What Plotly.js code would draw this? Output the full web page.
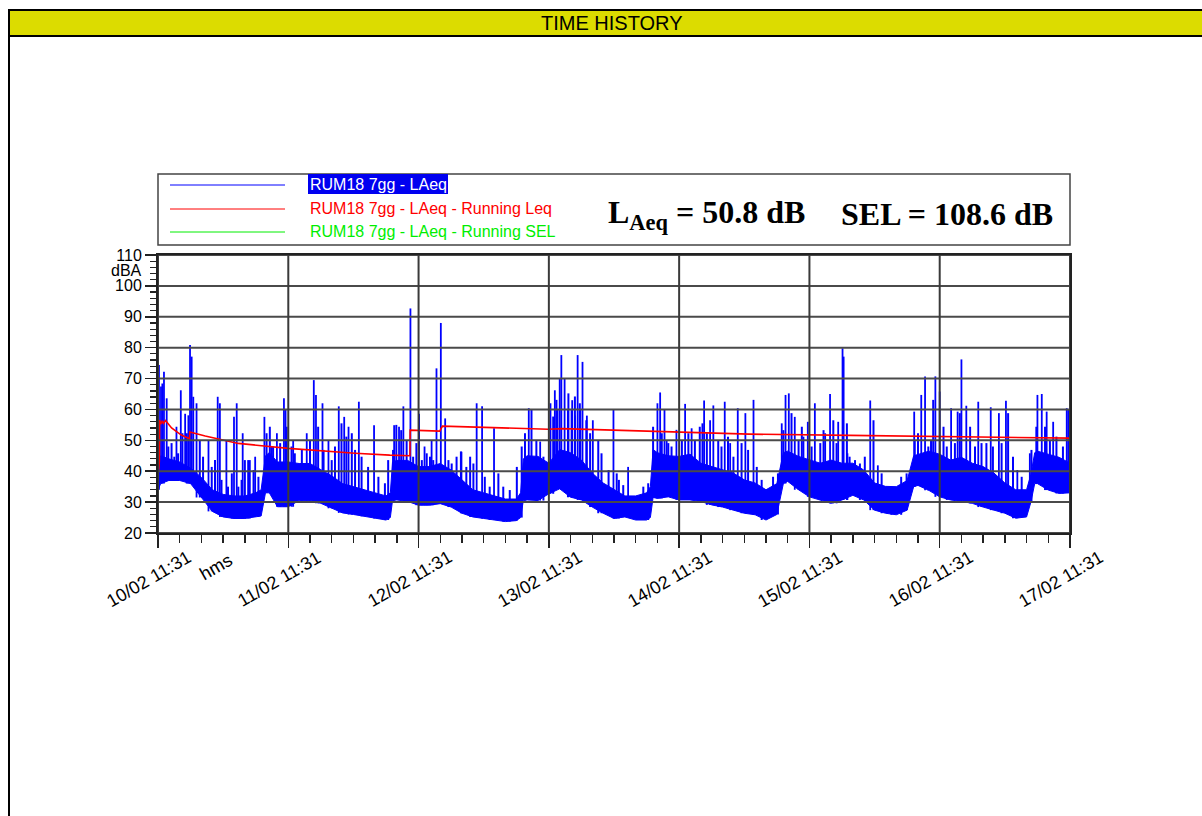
<!DOCTYPE html>
<html><head><meta charset="utf-8">
<script src="https://cdn.plot.ly/plotly-3.0.1.min.js"></script>
<style>html,body{margin:0;padding:0;background:#fff;} #chart{width:1202px;height:816px;}</style>
</head><body><div id="chart"></div>
<script>
// ---- data (hours since 10/02 11:31, levels in dBA) ----
const dayTicks = [0, 24, 48, 72, 96, 120, 144, 168];
const dayLabels = ['10/02 11:31', '11/02 11:31', '12/02 11:31', '13/02 11:31', '14/02 11:31', '15/02 11:31', '16/02 11:31', '17/02 11:31'];
const yTicks = [20, 30, 40, 50, 60, 70, 80, 90, 100, 110];

// dense body of LAeq trace: lower and upper envelope
const bodyT  = [0,0.5,2,4,6,8,10,12,14,16,18,19.0,19.8,20.5,22,24,26,28,30,32,34,36,38,40,42,42.8,43.2,44,46,48,50,52,54,56,58,60,62,64,66,66.8,67.3,68,70,72,74,76,78,80,82,84,86,88,90,90.7,91.2,92,94,96,98,100,102,104,106,108,110,112,114,115.2,116,118,120,122,124,126,128,130,132,134,136,138,139.2,140,142,144,146,148,150,152,154,156,158,160,160.8,161.5,162,164,166,168];
const bodyLo = [34,36,37,37,36,31.5,27,25.2,24.7,24.7,25.2,25.5,33,33,28.5,28.5,30.5,30.5,29.6,28,26.5,26,25.4,24.7,24.2,25,30.5,30.7,30.2,29,29,29.5,28.4,26.4,25.2,24.7,24.2,23.7,24,25,30.5,30.7,30.5,32.7,34.3,31.6,30.7,28.4,26.4,24.7,25.2,24.2,24.2,25,31.5,31.2,31.7,30.7,30.7,30.2,29.1,28.4,27.4,26.4,25.9,24.2,26,36,36.7,34,31.7,30.7,29.6,30.7,32.2,30.7,27.4,26.4,25.9,27.4,35,35.4,33.8,31.7,30.7,30.2,29.6,28.4,27.4,26.4,24.8,25.2,30,36,36,33.9,32.8,33];
const bodyHi = [44,45,44,43,41,38,34,32.5,32,32,33,34,45,46,43,43,42.5,42.5,40.5,38.5,36,35,34,33,32,33,43,43.5,43.5,41.5,41.5,42.5,40.4,37.2,34,33,32,31,31,33,44,45,44.8,42.6,47,46,43.6,39.4,36.2,34,32,32,33,35,47,46,45,44.8,45.5,42.6,41.5,40.4,39.4,37.2,36.2,34,36,46,46.5,44.8,43.7,42.6,43.6,42.6,42.6,40.4,36.2,35.1,35,37,45,45.5,46.5,45.5,43.6,44.5,42.6,41.5,39.4,36.2,34,34,39,46,46.5,45.5,44.5,42.6];

// isolated peaks of the LAeq trace
const spikeT    = [0.18,0.55,0.8,1.1,1.6,3.4,4.2,5.0,5.6,5.9,6.2,6.5,7.1,9.3,11.0,11.4,12.6,14.0,14.5,15.6,16.6,17.9,19.6,20.9,21.9,23.2,23.5,24.9,27.4,28.7,29.1,30.3,31.4,33.3,34.3,35.1,37.0,39.8,
  43.5,44.4,45.2,46.5,48.1,49.1,50.4,51.3,52.1,52.9,55.9,58.7,59.7,61.9,68.3,70.4,72.3,73.1,73.6,74.0,74.3,74.9,75.5,76.3,76.8,77.3,77.8,78.2,79.0,80.1,83.9,
  86.6,92.0,92.5,93.3,93.7,95.5,97.1,98.3,100.6,101.7,102.3,104.4,105.4,106.8,108.2,109.7,114.9,115.6,116.2,117.3,118.9,119.7,121.0,122.9,123.8,125.3,126.1,126.3,
  127.0,131.2,132.6,139.3,140.6,141.3,143.2,144.0,146.1,147.3,148.0,148.9,151.1,153.4,154.9,156.2,158.3,160.6,162.0,162.8,163.7,164.9,167.4];
const spikePeak = [74.4,67.4,68.4,72.2,63.6,54.4,66.2,58.6,58.1,80.9,77.1,64.1,62.0,50.1,64.1,62.0,50.1,57.6,62.0,52.3,43.6,44.7,57.6,48.0,52.3,63.6,59.9,50.1,52.3,69.5,64.7,62.0,50.1,61.0,57.6,54.4,62.5,54.9,
  54.9,54.4,61.0,92.7,58.6,48.0,50.1,73.3,88.0,57.1,46.3,62.0,61.0,53.9,60.4,49.6,62.0,66.2,60.0,70.0,77.6,70.0,60.0,63.0,58.0,77.6,60.0,75.4,58.0,56.5,59.9,
  41.4,62.0,65.5,59.9,50.1,53.4,61.8,53.9,62.9,56.5,61.3,62.5,49.1,60.4,58.8,63.1,55.5,64.7,65.2,57.6,51.2,56.0,62.0,52.3,65.0,56.0,79.8,77.1,
  45.8,62.9,41.9,59.3,64.7,70.7,70.7,65.8,60.4,59.3,76.2,61.2,62.5,60.7,58.8,62.8,40.4,45.8,64.7,65.0,59.3,56.0,60.4];

// smaller peaks that make the ragged top of the body
const midT    = [1.9,2.5,3.0,3.7,4.5,5.3,7.7,8.3,9.9,10.5,11.7,12.9,13.6,14.8,15.4,16.0,16.9,17.6,18.5,20.0,20.6,21.2,22.5,23.7,24.6,25.2,26.5,28.0,29.5,30.5,32.0,32.6,33.8,34.7,35.7,36.3,37.5,38.7,40.6,41.8,
  42.4,43.3,43.9,44.8,45.8,47.0,47.6,48.6,49.5,50.1,50.7,53.5,54.1,55.0,55.8,56.8,57.5,58.1,60.2,61.1,62.7,63.6,64.8,66.1,67.0,67.6,68.8,69.7,71.0,71.6,72.8,73.4,75.6,76.2,76.8,77.7,78.9,79.6,81.1,81.7,83.0,84.5,
  84.9,85.7,89.4,90.3,91.2,91.5,92.8,94.0,94.6,96.5,97.7,98.9,99.8,100.3,101.1,103.2,103.8,105.0,106.0,107.5,108.7,110.3,111.2,113.3,114.2,115.2,116.7,118.0,118.6,120.4,122.0,122.6,124.4,125.0,126.9,
  127.4,128.4,129.3,130.2,131.8,133.3,135.1,136.9,137.9,139.4,140.0,141.9,142.4,142.8,144.7,145.3,146.8,147.7,149.6,150.5,151.7,152.6,153.8,155.4,156.6,157.5,159.1,160.9,161.8,163.4,164.3,165.5,166.7,167.7];
const midPeak = [48.0,49.1,44.7,45.8,52.3,52.3,50.1,44.7,41.4,43.6,37.2,35.0,39.3,35.0,37.2,43.6,43.6,40.4,38.2,52.3,54.4,48.0,49.1,54.4,48.0,45.8,46.9,50.1,54.4,46.9,43.6,48.0,55.5,51.2,52.3,46.9,44.7,41.4,38.2,36.1,
  43.6,46.9,55.0,53.3,50.1,44.7,49.1,43.6,45.8,44.7,43.6,43.6,42.5,44.7,46.4,41.4,44.7,42.5,38.2,35.0,39.3,35.0,33.9,41.4,48.0,52.3,59.9,50.1,44.7,41.4,57.7,63.1,65.2,59.9,64.2,62.0,56.5,52.3,50.1,45.8,40.4,39.3,
  37.2,35.5,35.0,36.1,54.4,45.8,52.3,49.1,48.0,50.1,52.3,50.1,54.4,55.5,52.3,50.1,48.0,51.2,44.7,49.1,46.9,41.4,37.2,38.2,39.3,53.3,58.8,50.1,54.4,48.0,49.1,53.3,56.5,49.1,55.5,
  44.7,43.6,42.5,44.7,56.5,39.3,35.0,38.2,39.3,50.1,52.3,48.0,50.1,63.1,54.4,48.0,49.1,58.8,54.4,48.0,49.1,49.1,48.0,49.1,58.8,44.7,38.2,46.9,54.4,54.4,50.1,51.2,48.0,59.9];

// running Leq
const leqT = [0,0.05,0.15,0.25,0.3,0.5,0.8,1.0,1.4,2.5,4.3,5.8,5.85,8.7,14.8,24.0,30.1,36.3,42.7,46.4,46.45,51.9,52.4,60.2,71.9,74.4,85.1,96.0,108.9,127.5,144.1,168];
const leqV = [36.5,43,40.5,43.5,56.6,55.2,56.3,55.5,56.4,54.0,51.7,50.5,52.7,51.4,49.0,47.4,46.6,45.8,45.2,45.0,53.3,53.0,54.6,54.2,53.6,53.8,53.2,52.6,52.0,51.6,51.2,50.7];

const legendNames = ['RUM18 7gg - LAeq', 'RUM18 7gg - LAeq - Running Leq', 'RUM18 7gg - LAeq - Running SEL'];
const legendColors = ['#0000FF', '#FF0000', '#00EE00'];
const laeqText = 'L<sub>Aeq</sub> = 50.8 dB';
const selText = 'SEL = 108.6 dB';

// ---- build ----
function nearestLo(t) {
  let best = 0;
  bodyT.forEach((bt, j) => { if (Math.abs(bt - t) < Math.abs(bodyT[best] - t)) best = j; });
  return bodyLo[best];
}
function spikeLines(ts, ps) {
  const X = [], Y = [];
  ts.forEach((t, i) => { X.push(t, t, null); Y.push(nearestLo(t), ps[i], null); });
  return {X, Y};
}
const big = spikeLines(spikeT, spikePeak);
const mid = spikeLines(midT, midPeak);

const L = 158, R = 1070, T = 255, B = 533;
const PX = px => (px - L) / (R - L);
const PY = py => (B - py) / (B - T);

const traces = [
  {x: bodyT, y: bodyLo, mode: 'lines', line: {color: '#0000FF', width: 1}, hoverinfo: 'skip', showlegend: false},
  {x: bodyT, y: bodyHi, mode: 'lines', fill: 'tonexty', fillcolor: '#0000FF', line: {color: '#0000FF', width: 1}, name: legendNames[0], showlegend: false},
  {x: mid.X, y: mid.Y, mode: 'lines', line: {color: '#0000FF', width: 2}, hoverinfo: 'skip', showlegend: false},
  {x: big.X, y: big.Y, mode: 'lines', line: {color: '#0000FF', width: 1.8}, hoverinfo: 'skip', showlegend: false},
  {x: leqT, y: leqV, mode: 'lines', line: {color: '#FF0000', width: 1.6}, name: legendNames[1], showlegend: false}
];

const shapes = [];
shapes.push({type: 'rect', xref: 'paper', yref: 'paper', x0: PX(9), x1: PX(1220), y0: PY(840), y1: PY(10), line: {color: '#000', width: 2}, layer: 'below'});
shapes.push({type: 'rect', xref: 'paper', yref: 'paper', x0: PX(9), x1: PX(1220), y0: PY(36), y1: PY(10), fillcolor: '#DCDC00', line: {color: '#000', width: 2}, layer: 'below'});
yTicks.forEach(v => shapes.push({type: 'line', xref: 'x', yref: 'y', x0: dayTicks[0], x1: dayTicks[dayTicks.length - 1], y0: v, y1: v, line: {color: '#4a4a4a', width: 2}, layer: 'above'}));
dayTicks.forEach(d => shapes.push({type: 'line', xref: 'x', yref: 'y', x0: d, x1: d, y0: yTicks[0], y1: yTicks[yTicks.length - 1], line: {color: '#3a3a3a', width: 2}, layer: 'above'}));
shapes.push({type: 'rect', xref: 'paper', yref: 'paper', x0: PX(158), x1: PX(1070), y0: PY(245), y1: PY(174), line: {color: '#444', width: 1.5}, fillcolor: 'rgba(0,0,0,0)'});
const legY = [185, 209, 232];
legendNames.forEach((n, i) => shapes.push({type: 'line', xref: 'paper', yref: 'paper', x0: PX(170), x1: PX(285), y0: PY(legY[i]), y1: PY(legY[i]), line: {color: legendColors[i], width: 1}}));
shapes.push({type: 'rect', xref: 'paper', yref: 'paper', x0: PX(308), x1: PX(448), y0: PY(194), y1: PY(174), fillcolor: '#0000F0', line: {width: 0}});

const annotations = [];
annotations.push({xref: 'paper', yref: 'paper', x: PX(612), y: PY(23), text: 'TIME HISTORY', showarrow: false, xanchor: 'center', yanchor: 'middle', font: {family: 'Liberation Sans, Arial', size: 20, color: '#000'}});
legendNames.forEach((n, i) => annotations.push({xref: 'paper', yref: 'paper', x: PX(308), y: PY(legY[i] - 1), text: n, showarrow: false, xanchor: 'left', yanchor: 'middle', font: {family: 'Liberation Sans, Arial', size: 16, color: i === 0 ? '#FFFFFF' : legendColors[i]}}));
annotations.push({xref: 'paper', yref: 'paper', x: PX(606), y: PY(214), text: laeqText, showarrow: false, xanchor: 'left', yanchor: 'middle', font: {family: 'Liberation Serif, Times New Roman', size: 32, color: '#000', weight: 'bold'}});
annotations.push({xref: 'paper', yref: 'paper', x: PX(839), y: PY(214), text: selText, showarrow: false, xanchor: 'left', yanchor: 'middle', font: {family: 'Liberation Serif, Times New Roman', size: 32, color: '#000', weight: 'bold'}});
annotations.push({xref: 'paper', yref: 'paper', x: PX(144), y: PY(270), text: 'dBA', showarrow: false, xanchor: 'right', yanchor: 'middle', font: {family: 'Liberation Sans, Arial', size: 16, color: '#000'}});
annotations.push({xref: 'paper', yref: 'paper', x: PX(216), y: PY(567), text: 'hms', showarrow: false, textangle: -30, xanchor: 'center', yanchor: 'middle', font: {family: 'Liberation Sans, Arial', size: 18, color: '#000'}});
// rotated date labels under the day ticks
dayTicks.forEach((d, i) => annotations.push({xref: 'x', yref: 'paper', x: d, xshift: -9, y: PY(579), text: dayLabels[i], showarrow: false, textangle: -30, xanchor: 'center', yanchor: 'middle', font: {family: 'Liberation Sans, Arial', size: 18, color: '#000'}}));

const layout = {
  width: 1202, height: 816,
  margin: {l: L, r: 1202 - R, t: T, b: 816 - B, pad: 0},
  paper_bgcolor: '#fff', plot_bgcolor: '#fff',
  showlegend: false,
  font: {family: 'Liberation Sans, Arial', size: 16, color: '#000'},
  xaxis: {
    range: [dayTicks[0], dayTicks[dayTicks.length - 1]],
    tickmode: 'array', tickvals: dayTicks, ticktext: dayLabels, showticklabels: false,
    ticks: 'outside', ticklen: 13, tickwidth: 1.5, tickcolor: '#222',
    minor: {tickmode: 'linear', tick0: 0, dtick: 4, ticks: 'outside', ticklen: 8, tickwidth: 1.5, tickcolor: '#222', showgrid: false},
    showgrid: false, zeroline: false, showline: true, mirror: true, linecolor: '#222', linewidth: 2
  },
  yaxis: {
    range: [yTicks[0], yTicks[yTicks.length - 1]],
    tickmode: 'array', tickvals: yTicks,
    ticks: 'outside', ticklen: 11, tickwidth: 1.5, tickcolor: '#222',
    tickfont: {family: 'Liberation Sans, Arial', size: 16, color: '#000'},
    minor: {tickmode: 'linear', tick0: 20, dtick: 2, ticks: 'outside', ticklen: 6, tickwidth: 1.2, tickcolor: '#222', showgrid: false},
    showgrid: false, zeroline: false, showline: true, mirror: true, linecolor: '#222', linewidth: 2
  },
  shapes: shapes,
  annotations: annotations
};

Plotly.newPlot('chart', traces, layout, {staticPlot: true, displayModeBar: false});
</script></body></html>
